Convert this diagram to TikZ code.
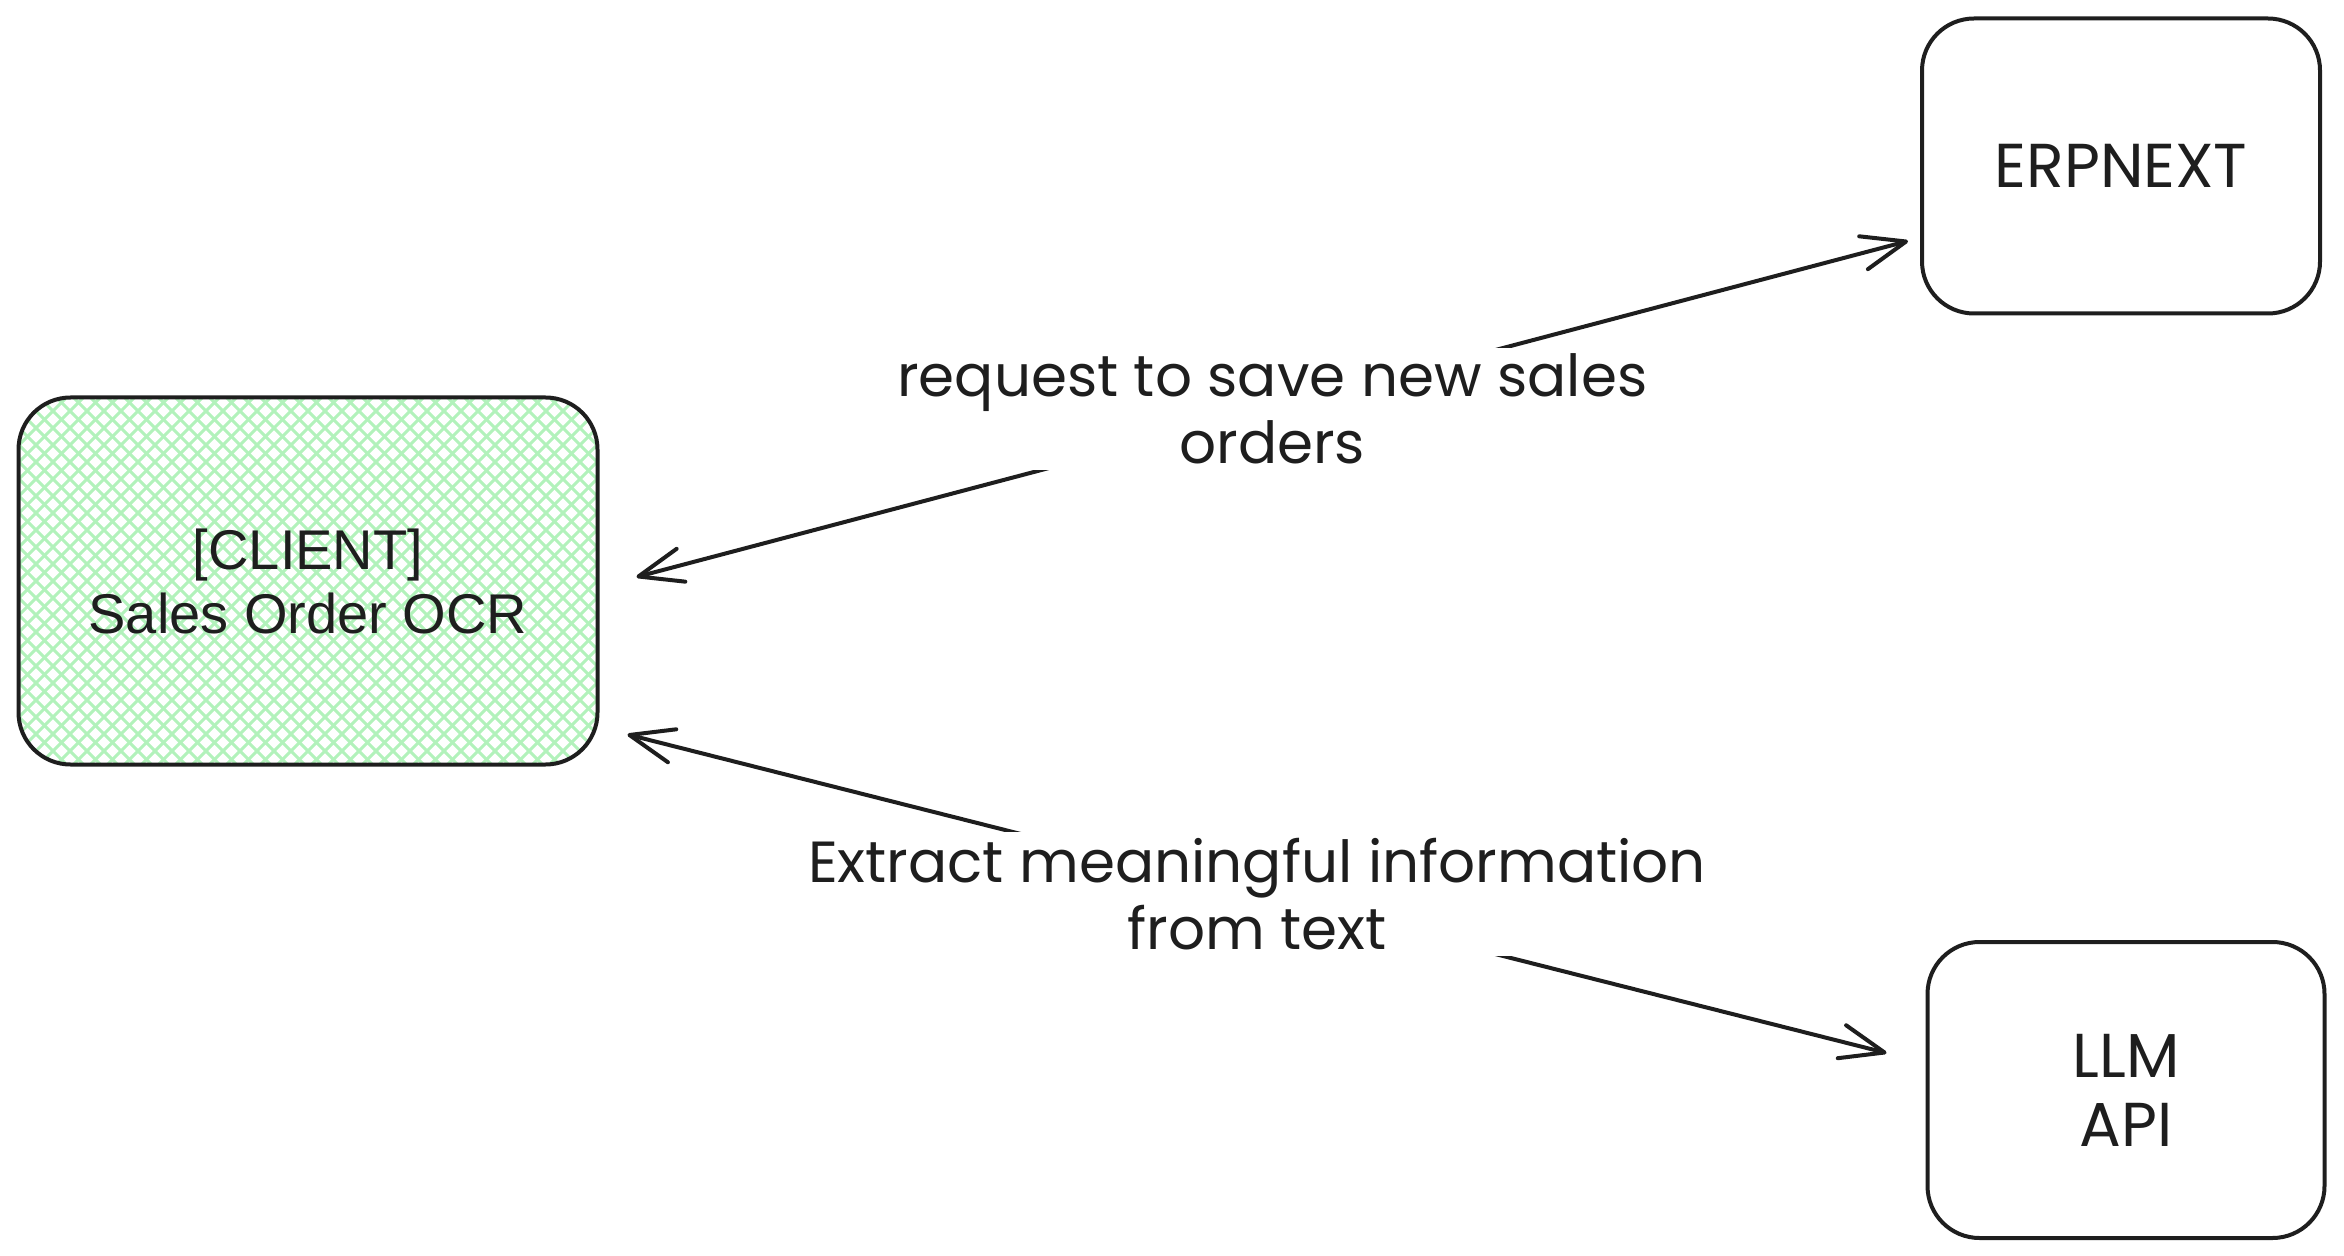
\documentclass[tikz,border=0pt]{standalone}
\usepackage{fontspec}
\setmainfont{Liberation Sans}
\newfontfamily\handfont{Poppins}
\usetikzlibrary{arrows.meta}
\definecolor{ink}{HTML}{1E1E1E}
\definecolor{mint}{HTML}{B2F2BB}

\tikzset{
  sysbox/.style={draw=ink, line width=2pt, rounded corners=26pt,
    align=center, inner sep=0pt, text=ink},
  handtext/.style={font=\handfont\fontsize{29}{33.5}\selectfont},
  boxtext/.style={font=\handfont\fontsize{31}{34.5}\selectfont},
  flow/.style={draw=ink, line width=2pt,
    {Straight Barb[length=22pt,width=17pt,round]}-{Straight Barb[length=22pt,width=17pt,round]}},
  flowlabel/.style={handtext, fill=white, align=center, inner sep=3pt, text=ink},
}

\begin{document}
\begin{tikzpicture}[x=0.5pt,y=-0.5pt]
  \useasboundingbox (0,0) rectangle (2344,1256);
  % the client, cross-hatched
  \node[sysbox, minimum width=289.5pt, minimum height=183.5pt,
    font=\fontsize{28}{32}\selectfont,
    path picture={
      \foreach \k in {-30,...,30}{%
        \draw[mint, line width=1.5pt]
          ([shift={(\k*8.5pt-150pt,-150pt)}]path picture bounding box.center) -- ++(300pt,300pt);
        \draw[mint, line width=1.5pt]
          ([shift={(\k*8.5pt+150pt,-150pt)}]path picture bounding box.center) -- ++(-300pt,300pt);
      }
    }] (client) at (308,581) {[CLIENT]\\Sales Order OCR};
  % the two services
  \node[sysbox, boxtext, minimum width=199pt, minimum height=147.5pt] (erp) at (2121,166) {ERPNEXT};
  \node[sysbox, boxtext, minimum width=198.5pt, minimum height=148pt] (llm) at (2126,1090) {LLM\\API};
  % connectors
  \draw[flow] ([xshift=18.5pt,yshift=2pt]client.east)
    -- node[flowlabel] (savelabel) {request to save new sales\\orders}
    ([xshift=-6pt,yshift=-37.5pt]erp.west);
  \draw[flow] ([xshift=14pt,yshift=16pt]client.south east)
    -- node[flowlabel] (extractlabel) {Extract meaningful information\\from text}
    ([xshift=-19.5pt,yshift=18.5pt]llm.west);
\end{tikzpicture}
\end{document}
